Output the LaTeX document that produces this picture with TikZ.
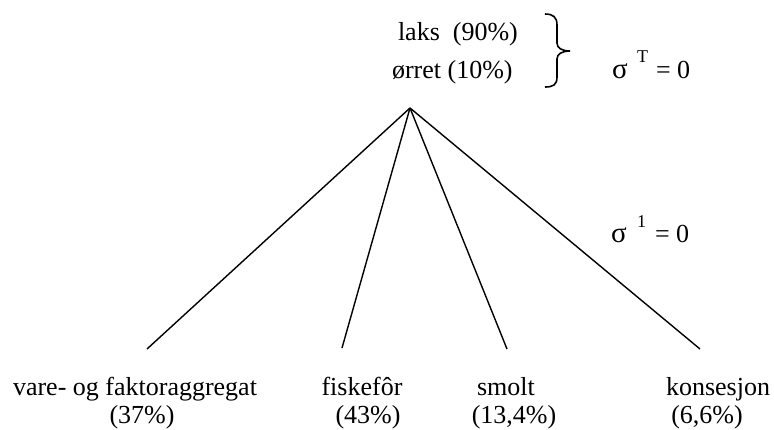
\documentclass[tikz,border=0pt]{standalone}
\usepackage{fontspec}
\setmainfont{Liberation Serif}
\begin{document}
\begin{tikzpicture}[x=1pt,y=-1pt,
  lbl/.style={inner sep=0pt,outer sep=0pt,font=\fontsize{26}{30}\selectfont},
  sig/.style={inner sep=0pt,outer sep=0pt,font=\fontsize{29}{32}\selectfont},
  sup/.style={inner sep=0pt,outer sep=0pt,font=\fontsize{18}{20}\selectfont},
  branch/.style={line width=1.4pt},
  bracestyle/.style={line width=1.6pt}]
\useasboundingbox (0,0) rectangle (774,429);
% top products
\node[lbl,anchor=base west] (laks) at (398,40) {laks\ \ (90\%)};
\node[lbl,anchor=base west] (orret) at (392,78) {ørret (10\%)};
% brace
\draw[bracestyle] (545,14) .. controls (553,14) and (557,17) .. (557,25) -- (557,43)
  .. controls (557,48) and (562,51) .. (570,51)
  .. controls (562,51) and (557,54) .. (557,59) -- (557,77)
  .. controls (557,85) and (553,87) .. (545,87);
% sigma T
\node[sig,anchor=base west] (sigT) at (612,78) {σ};
\node[sup,anchor=base west] (supT) at (637,62) {T};
\node[lbl,anchor=base west] (eqT) at (656,78) {= 0};
% sigma 1
\node[sig,anchor=base west] (sig1) at (611,242) {σ};
\node[sup,anchor=base west] (sup1) at (637,227) {1};
\node[lbl,anchor=base west] (eq1) at (655,242) {= 0};
% tree
\coordinate (apex) at (410,108);
\coordinate (e1) at (147,349);
\coordinate (e2) at (342,348);
\coordinate (e3) at (507,349);
\coordinate (e4) at (700,349);
\draw[branch] (apex) -- (e1);
\draw[branch] (apex) -- (e2);
\draw[branch] (apex) -- (e3);
\draw[branch] (apex) -- (e4);
% bottom labels
\node[lbl,anchor=base] (vare) at (135,395) {vare- og faktoraggregat};
\node[lbl,anchor=base] (vareP) at (142,423) {(37\%)};
\node[lbl,anchor=base] (fisk) at (362,395) {fiskefôr};
\node[lbl,anchor=base] (fiskP) at (368,423) {(43\%)};
\node[lbl,anchor=base] (smolt) at (506,395) {smolt};
\node[lbl,anchor=base] (smoltP) at (514,423) {(13,4\%)};
\node[lbl,anchor=base] (kons) at (718,395) {konsesjon};
\node[lbl,anchor=base] (konsP) at (707,423) {(6,6\%)};
\end{tikzpicture}
\end{document}
